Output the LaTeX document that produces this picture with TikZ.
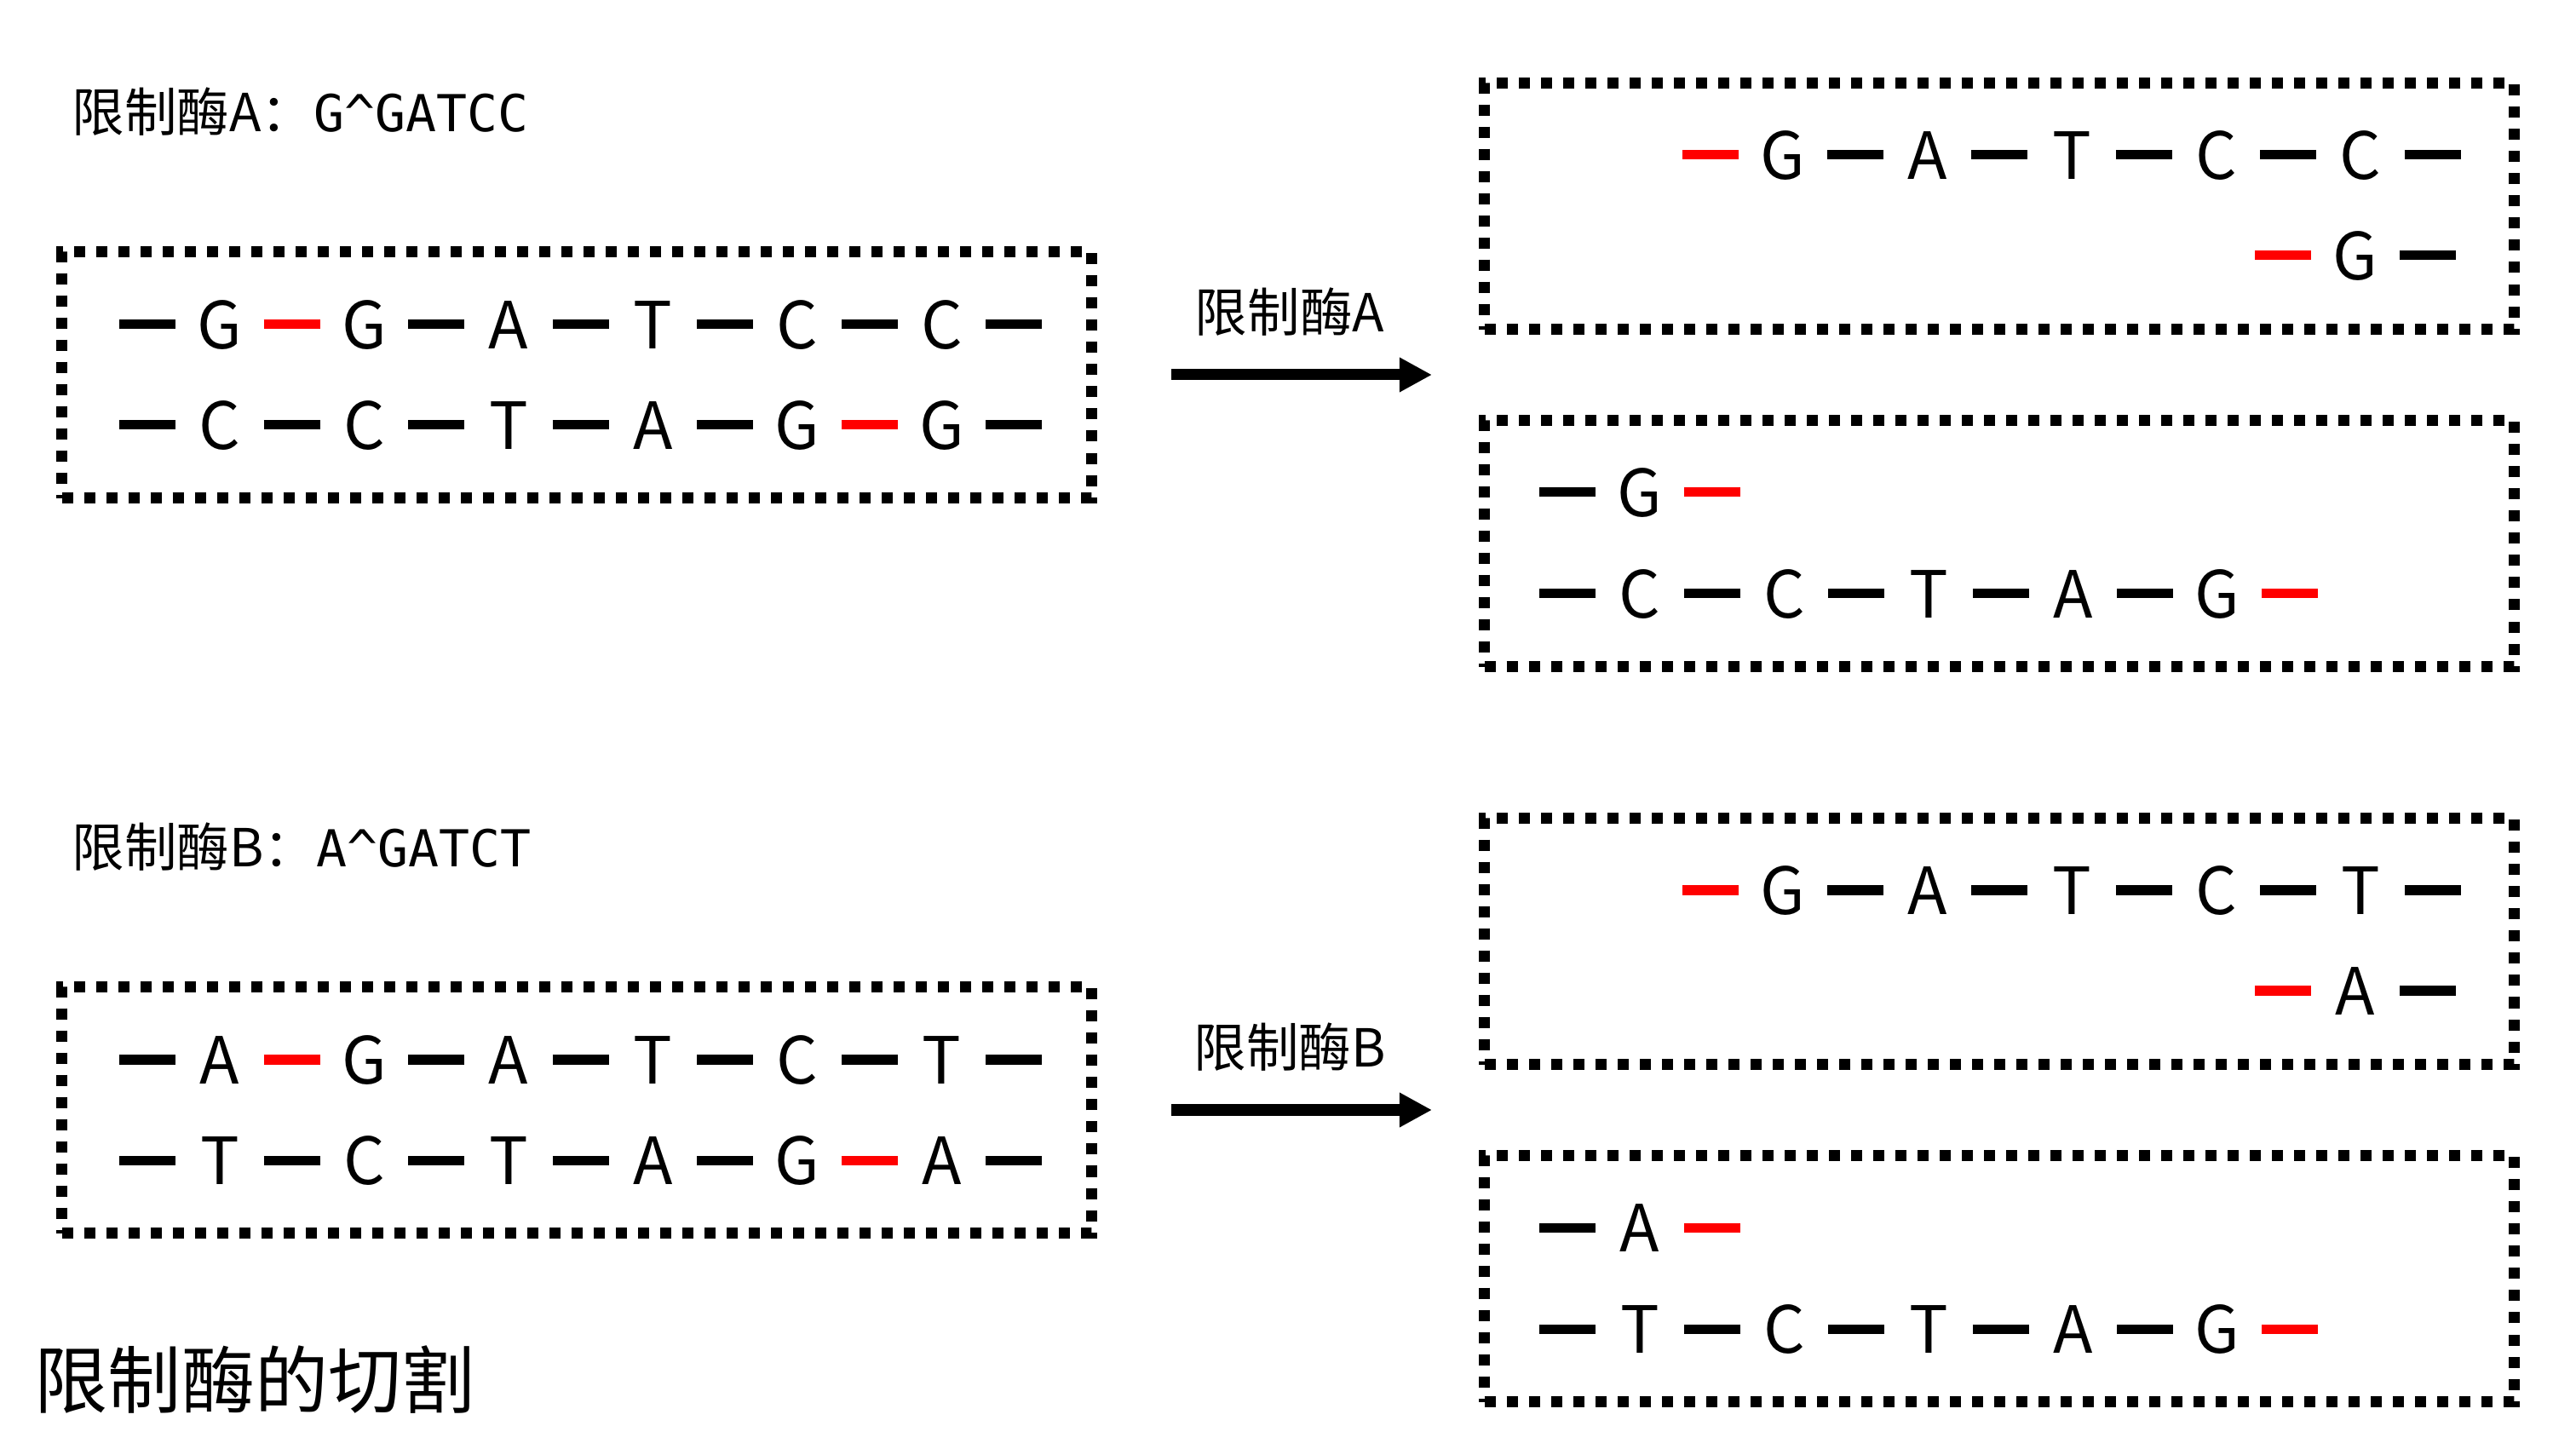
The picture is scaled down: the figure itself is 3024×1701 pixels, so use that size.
\documentclass[tikz,border=0pt]{standalone}
\usepackage{fontspec}
\setmainfont{Noto Sans CJK SC}
\newfontfamily\seqfont{DejaVu Sans Mono}
\usepackage{tikz}
\usetikzlibrary{positioning,arrows.meta}
\tikzstyle{dnabox} = [draw, line width=0.125cm, dash pattern=on 0.13cm off 0.13cm, minimum width=12.08cm, minimum height=2.89cm, inner sep=0pt]
\tikzstyle{nuc} = [inner sep=0pt, minimum width=1.02cm, text height=0.56cm, text depth=0pt, font=\fontsize{21.7pt}{26pt}\selectfont]
\tikzstyle{bond} = [draw, line width=0.11cm, black]
\tikzstyle{cutbond} = [draw, line width=0.11cm, red]
\tikzstyle{enz} = [inner sep=0pt, font=\fontsize{17.5pt}{21pt}\selectfont]
\tikzstyle{cutarrow} = [draw, line width=0.13cm, -{Triangle[length=0.38cm, width=0.38cm]}]

\begin{document}
\begin{tikzpicture}[x=0.01cm, y=-0.01cm]
\useasboundingbox (0,0) rectangle (3024,1701);

% boxes =============================
\node[dnabox] (boxA) at (677,440) {};
\node[dnabox] (boxA1) at (2347,242) {};
\node[dnabox] (boxA2) at (2347,638) {};
\node[dnabox] (boxB) at (677,1303) {};
\node[dnabox] (boxB1) at (2347,1105) {};
\node[dnabox] (boxB2) at (2347,1501) {};

% labels
\node[enz, anchor=west] (titleA) at (84,131) {限制酶A：{\seqfont\fontsize{17pt}{20pt}\selectfont G\textasciicircum GATCC}};
\node[enz, anchor=west] (titleB) at (84,994) {限制酶B：{\seqfont\fontsize{17pt}{20pt}\selectfont A\textasciicircum GATCT}};
\node[enz] (labA) at (1514,366) {限制酶A};
\node[enz] (labB) at (1514,1229) {限制酶B};
\node[inner sep=0pt, anchor=west, font=\fontsize{24.5pt}{29pt}\selectfont] (heading) at (40,1620) {限制酶的切割};

% enzyme A: uncut
\node[nuc] (at1) at (258,381) {G};
\node[nuc, right=0.66cm of at1] (at2) {G};
\node[nuc, right=0.66cm of at2] (at3) {A};
\node[nuc, right=0.66cm of at3] (at4) {T};
\node[nuc, right=0.66cm of at4] (at5) {C};
\node[nuc, right=0.66cm of at5] (at6) {C};
\coordinate[left=0.66cm of at1] (at0);
\coordinate[right=0.66cm of at6] (at7);

\node[nuc] (ab1) at (258,499) {C};
\node[nuc, right=0.66cm of ab1] (ab2) {C};
\node[nuc, right=0.66cm of ab2] (ab3) {T};
\node[nuc, right=0.66cm of ab3] (ab4) {A};
\node[nuc, right=0.66cm of ab4] (ab5) {G};
\node[nuc, right=0.66cm of ab5] (ab6) {G};
\coordinate[left=0.66cm of ab1] (ab0);
\coordinate[right=0.66cm of ab6] (ab7);

% enzyme A: right piece
\node[nuc] (a1t1) at (2093,182) {G};
\node[nuc, right=0.66cm of a1t1] (a1t2) {A};
\node[nuc, right=0.66cm of a1t2] (a1t3) {T};
\node[nuc, right=0.66cm of a1t3] (a1t4) {C};
\node[nuc, right=0.66cm of a1t4] (a1t5) {C};
\coordinate[left=0.66cm of a1t1] (a1t0);
\coordinate[right=0.66cm of a1t5] (a1t6);

\node[nuc] (a1b1) at (2765,300) {G};
\coordinate[left=0.66cm of a1b1] (a1b0);
\coordinate[right=0.66cm of a1b1] (a1b2);

% enzyme A: left piece
\node[nuc] (a2t1) at (1925,578) {G};
\coordinate[left=0.66cm of a2t1] (a2t0);
\coordinate[right=0.66cm of a2t1] (a2t2);

\node[nuc] (a2b1) at (1925,697) {C};
\node[nuc, right=0.66cm of a2b1] (a2b2) {C};
\node[nuc, right=0.66cm of a2b2] (a2b3) {T};
\node[nuc, right=0.66cm of a2b3] (a2b4) {A};
\node[nuc, right=0.66cm of a2b4] (a2b5) {G};
\coordinate[left=0.66cm of a2b1] (a2b0);
\coordinate[right=0.66cm of a2b5] (a2b6);

% enzyme B: uncut
\node[nuc] (bt1) at (258,1244) {A};
\node[nuc, right=0.66cm of bt1] (bt2) {G};
\node[nuc, right=0.66cm of bt2] (bt3) {A};
\node[nuc, right=0.66cm of bt3] (bt4) {T};
\node[nuc, right=0.66cm of bt4] (bt5) {C};
\node[nuc, right=0.66cm of bt5] (bt6) {T};
\coordinate[left=0.66cm of bt1] (bt0);
\coordinate[right=0.66cm of bt6] (bt7);

\node[nuc] (bb1) at (258,1362) {T};
\node[nuc, right=0.66cm of bb1] (bb2) {C};
\node[nuc, right=0.66cm of bb2] (bb3) {T};
\node[nuc, right=0.66cm of bb3] (bb4) {A};
\node[nuc, right=0.66cm of bb4] (bb5) {G};
\node[nuc, right=0.66cm of bb5] (bb6) {A};
\coordinate[left=0.66cm of bb1] (bb0);
\coordinate[right=0.66cm of bb6] (bb7);

% enzyme B: right piece
\node[nuc] (b1t1) at (2093,1045) {G};
\node[nuc, right=0.66cm of b1t1] (b1t2) {A};
\node[nuc, right=0.66cm of b1t2] (b1t3) {T};
\node[nuc, right=0.66cm of b1t3] (b1t4) {C};
\node[nuc, right=0.66cm of b1t4] (b1t5) {T};
\coordinate[left=0.66cm of b1t1] (b1t0);
\coordinate[right=0.66cm of b1t5] (b1t6);

\node[nuc] (b1b1) at (2765,1163) {A};
\coordinate[left=0.66cm of b1b1] (b1b0);
\coordinate[right=0.66cm of b1b1] (b1b2);

% enzyme B: left piece
\node[nuc] (b2t1) at (1925,1441) {A};
\coordinate[left=0.66cm of b2t1] (b2t0);
\coordinate[right=0.66cm of b2t1] (b2t2);

\node[nuc] (b2b1) at (1925,1560) {T};
\node[nuc, right=0.66cm of b2b1] (b2b2) {C};
\node[nuc, right=0.66cm of b2b2] (b2b3) {T};
\node[nuc, right=0.66cm of b2b3] (b2b4) {A};
\node[nuc, right=0.66cm of b2b4] (b2b5) {G};
\coordinate[left=0.66cm of b2b1] (b2b0);
\coordinate[right=0.66cm of b2b5] (b2b6);

% arrows
\coordinate (cA0) at (1375,440);
\coordinate (cA1) at (1681,440);
\coordinate (cB0) at (1375,1303);
\coordinate (cB1) at (1681,1303);
\path[cutarrow] (cA0) -- (cA1);
\path[cutarrow] (cB0) -- (cB1);

%bonds
\path[bond] (at0) -- (at1);
\path[cutbond] (at1) -- (at2);
\path[bond] (at2) -- (at3);
\path[bond] (at3) -- (at4);
\path[bond] (at4) -- (at5);
\path[bond] (at5) -- (at6);
\path[bond] (at6) -- (at7);
\path[bond] (ab0) -- (ab1);
\path[bond] (ab1) -- (ab2);
\path[bond] (ab2) -- (ab3);
\path[bond] (ab3) -- (ab4);
\path[bond] (ab4) -- (ab5);
\path[cutbond] (ab5) -- (ab6);
\path[bond] (ab6) -- (ab7);

\path[cutbond] (a1t0) -- (a1t1);
\path[bond] (a1t1) -- (a1t2);
\path[bond] (a1t2) -- (a1t3);
\path[bond] (a1t3) -- (a1t4);
\path[bond] (a1t4) -- (a1t5);
\path[bond] (a1t5) -- (a1t6);
\path[cutbond] (a1b0) -- (a1b1);
\path[bond] (a1b1) -- (a1b2);

\path[bond] (a2t0) -- (a2t1);
\path[cutbond] (a2t1) -- (a2t2);
\path[bond] (a2b0) -- (a2b1);
\path[bond] (a2b1) -- (a2b2);
\path[bond] (a2b2) -- (a2b3);
\path[bond] (a2b3) -- (a2b4);
\path[bond] (a2b4) -- (a2b5);
\path[cutbond] (a2b5) -- (a2b6);

\path[bond] (bt0) -- (bt1);
\path[cutbond] (bt1) -- (bt2);
\path[bond] (bt2) -- (bt3);
\path[bond] (bt3) -- (bt4);
\path[bond] (bt4) -- (bt5);
\path[bond] (bt5) -- (bt6);
\path[bond] (bt6) -- (bt7);
\path[bond] (bb0) -- (bb1);
\path[bond] (bb1) -- (bb2);
\path[bond] (bb2) -- (bb3);
\path[bond] (bb3) -- (bb4);
\path[bond] (bb4) -- (bb5);
\path[cutbond] (bb5) -- (bb6);
\path[bond] (bb6) -- (bb7);

\path[cutbond] (b1t0) -- (b1t1);
\path[bond] (b1t1) -- (b1t2);
\path[bond] (b1t2) -- (b1t3);
\path[bond] (b1t3) -- (b1t4);
\path[bond] (b1t4) -- (b1t5);
\path[bond] (b1t5) -- (b1t6);
\path[cutbond] (b1b0) -- (b1b1);
\path[bond] (b1b1) -- (b1b2);

\path[bond] (b2t0) -- (b2t1);
\path[cutbond] (b2t1) -- (b2t2);
\path[bond] (b2b0) -- (b2b1);
\path[bond] (b2b1) -- (b2b2);
\path[bond] (b2b2) -- (b2b3);
\path[bond] (b2b3) -- (b2b4);
\path[bond] (b2b4) -- (b2b5);
\path[cutbond] (b2b5) -- (b2b6);

\end{tikzpicture}
\end{document}
